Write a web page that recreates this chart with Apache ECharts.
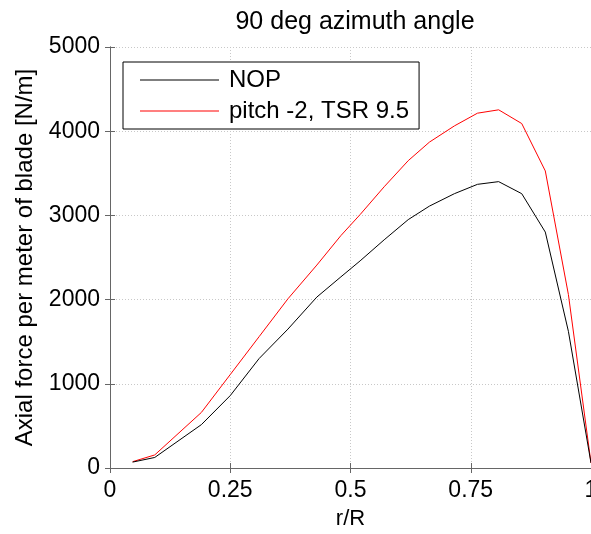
<!DOCTYPE html>
<html>
<head>
<meta charset="utf-8">
<title>90 deg azimuth angle</title>
<script src="https://cdn.jsdelivr.net/npm/echarts@6/dist/echarts.min.js"></script>
<style>
  html, body { margin: 0; padding: 0; background: #fff; }
  #chart { width: 591px; height: 534px; }
</style>
</head>
<body>
<div id="chart"></div>
<script>
// radial positions r/R
const rR = [0.047, 0.093, 0.19, 0.25, 0.31, 0.37, 0.43, 0.48, 0.52, 0.57, 0.62, 0.664, 0.716, 0.764, 0.808, 0.856, 0.905, 0.953, 1.0];
// axial force per meter [N/m]
const nop = [70, 125, 515, 860, 1300, 1650, 2030, 2270, 2460, 2710, 2950, 3110, 3258, 3369, 3401, 3258, 2802, 1623, 60];
const pitch = [75, 155, 660, 1110, 1560, 2010, 2410, 2760, 3010, 3340, 3650, 3870, 4063, 4214, 4254, 4091, 3528, 2060, 60];

const xTicks = [0, 0.25, 0.5, 0.75, 1];
const yTicks = [0, 1000, 2000, 3000, 4000, 5000];

const font = "Liberation Sans, Arial, sans-serif";
const axisGray = "#666";

const chart = echarts.init(document.getElementById("chart"));

const zip = (xs, ys) => xs.map((x, i) => [x, ys[i]]);

const baseX = {
  type: "value",
  min: xTicks[0],
  max: xTicks[xTicks.length - 1],
  interval: 0.25,
  axisLine: { show: true, lineStyle: { color: axisGray, width: 1 } },
  axisTick: { show: true, inside: true, length: 5, lineStyle: { color: axisGray } },
};
const baseY = {
  type: "value",
  min: yTicks[0],
  max: yTicks[yTicks.length - 1],
  interval: 1000,
  axisLine: { show: true, lineStyle: { color: axisGray, width: 1 } },
  axisTick: { show: true, inside: true, length: 5, lineStyle: { color: axisGray } },
};

chart.setOption({
  animation: false,
  textStyle: { fontFamily: font },
  title: {
    text: "90 deg azimuth angle",
    left: 350,
    top: 5,
    textAlign: "center",
    textStyle: { fontFamily: font, fontSize: 25, fontWeight: "normal", color: "#000" },
  },
  grid: { left: 110, right: 0, top: 47, bottom: 66, containLabel: false, outerBoundsMode: "none" },
  legend: {
    orient: "vertical",
    left: 123,
    top: 62,
    padding: [6, 10, 6, 17],
    itemGap: 7,
    itemWidth: 79,
    itemHeight: 1,
    icon: "rect",
    borderColor: "#000",
    borderWidth: 1,
    backgroundColor: "#fff",
    textStyle: { fontFamily: font, fontSize: 24, color: "#000", padding: [0, 0, 0, 5] },
    data: ["NOP", "pitch -2, TSR 9.5"],
  },
  xAxis: [
    Object.assign({}, baseX, {
      position: "bottom",
      name: "r/R",
      nameLocation: "middle",
      nameGap: 40,
      nameTextStyle: { fontFamily: font, fontSize: 22, color: "#000" },
      axisLabel: { color: "#000", fontSize: 23, fontFamily: font, margin: 11,
        formatter: (v) => String(v) },
      splitLine: { show: true, lineStyle: { color: "#c8c8c8", type: [1, 2], width: 1 } },
    }),
    Object.assign({}, baseX, {
      position: "top",
      axisLabel: { show: false },
      splitLine: { show: false },
    }),
  ],
  yAxis: [
    Object.assign({}, baseY, {
      position: "left",
      name: "Axial force per meter of blade [N/m]",
      nameLocation: "middle",
      nameGap: 73,
      nameRotate: 90,
      nameTextStyle: { fontFamily: font, fontSize: 24, color: "#000" },
      axisLabel: { color: "#000", fontSize: 23, fontFamily: font, margin: 10,
        formatter: (v) => String(v) },
      splitLine: { show: true, lineStyle: { color: "#c8c8c8", type: [1, 2], width: 1 } },
    }),
    Object.assign({}, baseY, {
      position: "right",
      axisLabel: { show: false },
      splitLine: { show: false },
    }),
  ],
  series: [
    {
      name: "NOP",
      type: "line",
      data: zip(rR, nop),
      symbol: "none",
      lineStyle: { color: "#000", width: 1 },
      itemStyle: { color: "#000" },
      z: 3,
    },
    {
      name: "pitch -2, TSR 9.5",
      type: "line",
      data: zip(rR, pitch),
      symbol: "none",
      lineStyle: { color: "#ff0000", width: 1 },
      itemStyle: { color: "#ff0000" },
      z: 2,
    },
  ],
});
</script>
</body>
</html>
